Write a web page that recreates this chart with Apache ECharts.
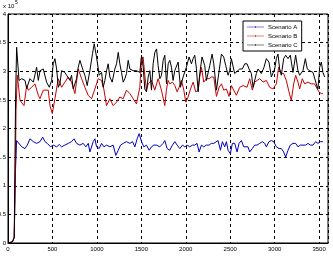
<!DOCTYPE html>
<html><head><meta charset="utf-8">
<script src="https://cdn.jsdelivr.net/npm/echarts@6/dist/echarts.min.js"></script>
<style>html,body{margin:0;padding:0;background:#fff}#c{width:333px;height:261px}</style>
</head><body><div id="c"></div>
<script>
var seriesNames = ['Scenario A', 'Scenario B', 'Scenario C'];
var xTicks = [0, 500, 1000, 1500, 2000, 2500, 3000, 3500];
var yTicks = [0, 0.5, 1, 1.5, 2, 2.5, 3, 3.5, 4];

var xA = [0,50,70,85,97,116,154,191,217,247,285,322,360,390,416,442,464,479,509,547,577,603,640,678,715,742,772,809,846,876,903,921,959,978,996,1026,1053,1079,1109,1146,1183,1213,1240,1266,1296,1333,1371,1401,1427,1453,1476,1502,1528,1558,1588,1614,1640,1670,1708,1745,1764,1790,1820,1850,1877,1903,1933,1963,1989,2015,2045,2075,2101,2127,2150,2176,2202,2232,2262,2288,2315,2337,2363,2390,2412,2438,2457,2476,2502,2524,2551,2577,2599,2626,2652,2674,2700,2719,2749,2775,2802,2832,2861,2888,2906,2936,2963,2989,3019,3049,3075,3101,3124,3150,3176,3206,3236,3262,3288,3318,3348,3375,3401,3431,3461,3487,3513,3543];
var yA = [0,0.02,0.1,1.3,1.79,1.77,1.68,1.65,1.71,1.82,1.77,1.74,1.77,1.85,1.77,1.74,1.77,1.68,1.71,1.68,1.72,1.68,1.71,1.74,1.77,1.82,1.74,1.71,1.74,1.68,1.74,1.59,1.77,1.82,1.68,1.65,1.74,1.68,1.71,1.68,1.71,1.53,1.62,1.71,1.74,1.77,1.74,1.77,1.68,1.82,1.91,1.77,1.68,1.71,1.62,1.68,1.71,1.71,1.68,1.74,1.79,1.65,1.62,1.71,1.77,1.71,1.65,1.71,1.68,1.71,1.68,1.71,1.71,1.74,1.59,1.71,1.68,1.71,1.71,1.74,1.74,1.74,1.79,1.62,1.77,1.68,1.77,1.62,1.56,1.74,1.74,1.59,1.74,1.79,1.68,1.65,1.68,1.59,1.65,1.71,1.71,1.74,1.77,1.74,1.68,1.77,1.79,1.77,1.68,1.65,1.65,1.59,1.50,1.62,1.71,1.74,1.74,1.68,1.71,1.71,1.71,1.74,1.71,1.71,1.77,1.74,1.77,1.77];

var xB = [0,50,70,85,90,105,135,180,210,228,266,303,341,359,397,453,472,498,528,565,603,640,678,715,753,790,828,865,902,940,977,1015,1052,1078,1108,1146,1183,1221,1258,1296,1333,1371,1408,1445,1483,1502,1520,1539,1558,1577,1614,1651,1689,1726,1764,1782,1801,1820,1850,1877,1903,1925,1951,1978,2000,2026,2053,2083,2112,2139,2157,2176,2202,2232,2262,2288,2315,2345,2375,2401,2427,2457,2487,2513,2539,2569,2607,2644,2689,2719,2749,2775,2802,2832,2869,2906,2944,2981,3019,3045,3075,3101,3131,3161,3187,3214,3236,3262,3281,3311,3337,3375,3412,3449,3468,3498,3524,3543];
var yB = [0,0.02,0.1,1.5,2.31,2.93,2.49,2.40,2.75,2.67,2.72,2.78,2.58,2.52,2.67,2.67,2.40,2.26,2.52,2.87,2.72,2.81,2.90,2.81,2.61,3.04,2.87,2.72,2.58,2.52,2.69,2.87,2.84,2.69,2.40,2.52,2.40,2.46,2.55,2.52,2.67,2.61,2.52,2.43,2.72,3.19,3.25,2.93,2.67,2.78,2.84,2.67,2.87,2.67,2.40,2.67,2.84,2.78,2.81,2.75,2.64,2.72,2.84,2.67,2.46,2.55,2.69,2.81,2.64,2.67,2.90,3.07,2.81,2.87,2.87,2.90,2.90,2.56,2.72,2.78,2.67,2.69,2.56,2.75,2.67,2.58,2.72,2.75,2.72,2.87,2.67,2.81,2.84,2.87,2.81,2.84,2.72,2.69,2.78,3.07,2.96,2.96,2.84,2.64,2.49,2.78,2.93,2.81,2.69,2.87,2.78,2.81,2.78,2.78,2.81,2.64,2.61,2.61];

var xC = [0,50,70,85,97,124,154,191,210,247,285,322,341,360,397,416,434,465,491,509,528,547,566,584,603,640,659,697,715,734,771,790,809,846,865,891,921,951,970,996,1026,1053,1071,1090,1109,1127,1146,1172,1202,1221,1240,1258,1277,1296,1315,1333,1352,1371,1408,1446,1464,1483,1502,1521,1539,1558,1577,1596,1614,1633,1652,1671,1689,1708,1727,1745,1764,1783,1802,1820,1839,1857,1876,1914,1940,1970,2007,2037,2064,2082,2101,2120,2139,2157,2183,2213,2232,2270,2296,2315,2345,2363,2401,2427,2449,2476,2494,2513,2532,2550,2569,2607,2637,2663,2689,2712,2738,2757,2775,2794,2813,2850,2880,2906,2936,2963,3000,3019,3037,3056,3075,3101,3124,3150,3176,3206,3236,3262,3281,3318,3345,3367,3393,3412,3431,3449,3468,3487,3506,3525,3543,3562];
var yC = [0,0.02,0.1,2.5,3.42,2.84,2.87,2.84,2.70,2.87,2.81,3.07,2.84,3.01,3.04,3.01,2.81,2.72,2.84,3.13,3.22,3.04,2.72,2.78,3.01,2.98,2.93,2.84,2.93,2.69,2.87,3.07,3.19,3.01,2.93,2.75,3.01,3.31,3.48,3.25,2.93,2.98,2.72,2.84,3.01,3.13,2.90,2.81,3.04,3.13,3.33,3.13,2.98,2.81,2.87,2.96,3.19,3.04,3.01,3.01,3.04,2.98,3.28,3.07,2.69,2.64,2.90,3.01,2.67,3.13,3.33,3.39,3.10,2.87,2.93,3.19,3.28,2.78,3.13,3.19,3.07,2.84,3.01,3.16,2.72,2.90,3.07,3.25,3.13,3.22,3.28,3.04,2.64,2.96,3.25,3.10,2.84,3.10,3.30,3.13,2.67,2.67,3.30,3.25,3.10,2.93,3.01,3.22,3.25,2.96,2.96,3.04,3.04,3.13,3.13,3.04,2.96,2.72,2.72,2.96,3.04,2.96,3.07,3.22,3.16,2.90,3.04,3.22,3.30,3.04,2.93,3.22,3.28,3.22,3.28,2.98,3.28,3.01,2.93,3.01,3.22,3.04,3.01,3.04,2.98,3.01,2.78,2.69,3.07,3.16,2.98,2.90];

var colors = ['#0000c0', '#c80000', '#000000'];

function pairs(xs, ys) { return xs.map(function (x, i) { return [x, ys[i]]; }); }

var chart = echarts.init(document.getElementById('c'), null, {renderer: 'canvas'});
var fontF = '"Liberation Sans", Arial, sans-serif';
var legendIcon = 'path://M0,4.5 L40,4.5 L40,5.5 L0,5.5 Z M19,3 L21,3 L21,7 L19,7 Z';
chart.setOption({
  animation: false,
  backgroundColor: '#ffffff',
  grid: {left: 8, right: 5, top: 14, bottom: 18, containLabel: false, outerBoundsMode: 'none', show: true, borderColor: '#000', borderWidth: 1, backgroundColor: 'transparent'},
  xAxis: {
    type: 'value', min: 0, max: 3600, interval: 500,
    axisLine: {show: true, onZero: false, lineStyle: {color: '#000', width: 1}},
    axisTick: {show: false},
    splitLine: {show: true, lineStyle: {color: '#000', type: [3, 3], width: 1}},
    axisLabel: {fontSize: 6, color: '#000', fontFamily: fontF, margin: 3, showMaxLabel: false,
      formatter: function (v) { return xTicks.indexOf(v) >= 0 ? String(v) : ''; }}
  },
  yAxis: {
    type: 'value', min: 0, max: 4, interval: 0.5,
    axisLine: {show: true, onZero: false, lineStyle: {color: '#000', width: 1}},
    axisTick: {show: false},
    splitLine: {show: true, lineStyle: {color: '#000', type: [3, 3], width: 1}},
    axisLabel: {fontSize: 6, color: '#000', fontFamily: fontF, margin: 2,
      formatter: function (v) { return yTicks.indexOf(v) >= 0 ? String(v) : ''; }}
  },
  legend: {
    left: 243, top: 21, orient: 'vertical',
    backgroundColor: '#fff', borderColor: '#000', borderWidth: 1, borderRadius: 0,
    padding: [3, 4, 3, 4], itemGap: 3, itemWidth: 17, itemHeight: 5,
    icon: legendIcon,
    textStyle: {fontSize: 6, color: '#000', fontFamily: fontF, padding: [0, 0, 0, -1]},
    data: seriesNames
  },
  graphic: [
    {type: 'text', left: 3, top: 3, style: {text: 'x 10', fontSize: 6, fill: '#000', fontFamily: fontF}},
    {type: 'text', left: 15, top: 0, style: {text: '5', fontSize: 5, fill: '#000', fontFamily: fontF}}
  ],
  series: [
    {name: seriesNames[0], type: 'line', data: pairs(xA, yA), showSymbol: false, symbol: 'none', lineStyle: {width: 1, color: colors[0]}, itemStyle: {color: colors[0]}},
    {name: seriesNames[1], type: 'line', data: pairs(xB, yB), showSymbol: false, symbol: 'none', lineStyle: {width: 1, color: colors[1]}, itemStyle: {color: colors[1]}},
    {name: seriesNames[2], type: 'line', data: pairs(xC, yC), showSymbol: false, symbol: 'none', lineStyle: {width: 1, color: colors[2]}, itemStyle: {color: colors[2]}}
  ]
});
</script></body></html>
